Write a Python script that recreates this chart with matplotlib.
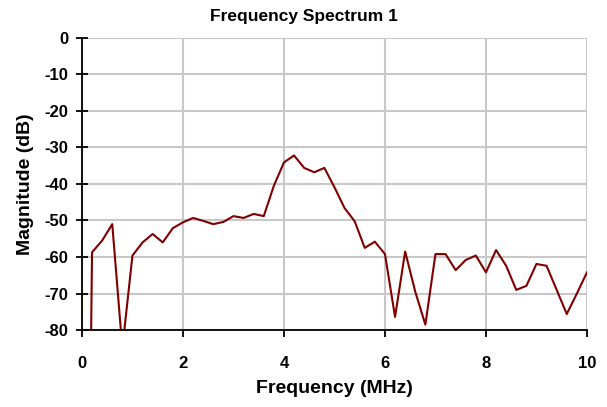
import matplotlib
matplotlib.use("Agg")
import matplotlib.pyplot as plt

plt.rcParams['font.family'] = ['Liberation Sans', 'DejaVu Sans']
plt.rcParams['font.weight'] = 'bold'
plt.rcParams['axes.unicode_minus'] = False

# frequency bins (MHz) and magnitude (dB)
freq = [0.0, 0.2, 0.4, 0.6, 0.8, 1.0, 1.2, 1.4, 1.6, 1.8, 2.0,
        2.2, 2.4, 2.6, 2.8, 3.0, 3.2, 3.4, 3.6, 3.8, 4.0,
        4.2, 4.4, 4.6, 4.8, 5.0, 5.2, 5.4, 5.6, 5.8, 6.0,
        6.2, 6.4, 6.6, 6.8, 7.0, 7.2, 7.4, 7.6, 7.8, 8.0,
        8.2, 8.4, 8.6, 8.8, 9.0, 9.2, 9.4, 9.6, 9.8, 10.0]
mag = [-300, -58.7, -55.5, -51.0, -85.0, -59.6, -56.0, -53.7, -56.0, -52.1, -50.5,
       -49.3, -50.1, -51.0, -50.4, -48.8, -49.3, -48.2, -48.8, -40.5, -34.1,
       -32.2, -35.6, -36.8, -35.6, -40.9, -46.6, -50.2, -57.5, -55.8, -59.2,
       -76.4, -58.5, -69.5, -78.5, -59.2, -59.2, -63.6, -60.8, -59.6, -64.2,
       -58.1, -62.4, -69.0, -67.9, -61.9, -62.4, -69.0, -75.6, -70.0, -64.2]

xticks = [0, 2, 4, 6, 8, 10]
yticks = [0, -10, -20, -30, -40, -50, -60, -70, -80]

fig = plt.figure(figsize=(6.07, 4.07), dpi=100)
ax = fig.add_axes([0.135, 0.189, 0.832, 0.718])

ax.plot(freq, mag, color='#800000', lw=1.5)

ax.set_xlim(0, 10)
ax.set_ylim(-80, 0)
ax.set_xticks(xticks)
ax.set_yticks(yticks)
ax.grid(True, color='#c8c8c8', lw=1.5)
ax.set_axisbelow(True)

for s in ['top', 'right']:
    ax.spines[s].set_visible(False)
for s in ['left', 'bottom']:
    ax.spines[s].set_linewidth(1.3)

ax.tick_params(axis='x', direction='out', length=5, width=1.3, labelsize=12, pad=14)
ax.tick_params(axis='y', direction='inout', length=8, width=1.3, labelsize=12, pad=6)
for lbl in ax.get_xticklabels() + ax.get_yticklabels():
    lbl.set_fontweight('bold')

fig.text(0.5, 1 - 16 / 407, "Frequency Spectrum 1", fontsize=12.5,
         fontweight='bold', ha='center', va='center')
ax.set_xlabel("Frequency (MHz)", fontsize=14, fontweight='bold', labelpad=6)
ax.set_ylabel("Magnitude (dB)", fontsize=14, fontweight='bold', labelpad=7)

fig.savefig("out.png", dpi=100)
